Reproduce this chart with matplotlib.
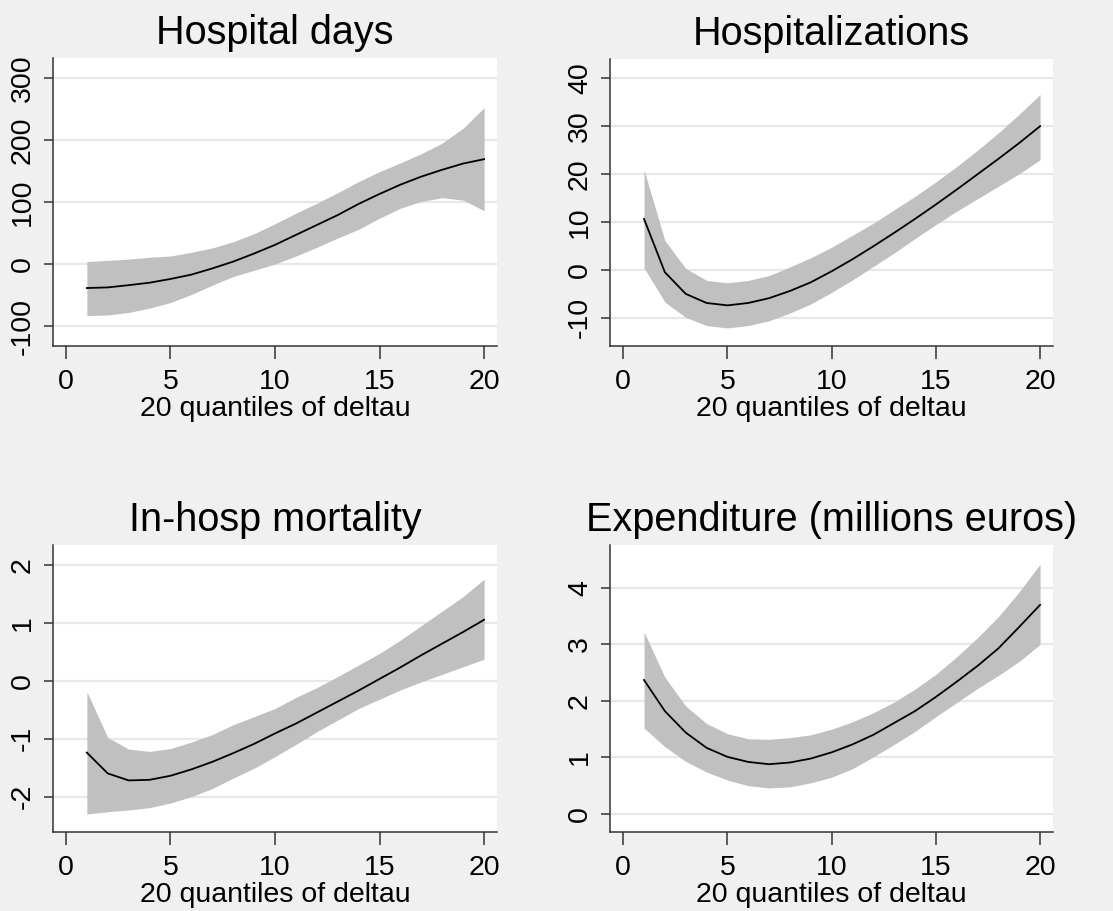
import numpy as np
import matplotlib
matplotlib.use("Agg")
import matplotlib.pyplot as plt

plt.rcParams['font.family'] = ['Liberation Sans', 'DejaVu Sans']

quantiles = np.arange(1, 21)

# Hospital days
days_mid = [-38.6, -37.6, -34, -30, -24, -17, -7, 4, 17, 31, 47, 63, 79, 97, 113, 128, 141, 152, 162, 169]
days_lo = [-83, -82, -78, -71, -62, -49, -34, -20, -10, 0, 13, 27, 42, 56, 74, 90, 101, 107, 103, 86]
days_hi = [4, 6, 8, 11, 13, 19, 26, 36, 49, 65, 82, 98, 115, 133, 149, 163, 178, 195, 219, 252]

# Hospitalizations
hosp_mid = [10.6, -0.5, -5.0, -6.9, -7.4, -6.9, -5.9, -4.4, -2.6, -0.3, 2.2, 4.9, 7.7, 10.6, 13.6, 16.7, 19.9, 23.1, 26.4, 29.9]
hosp_lo = [0.4, -6.7, -9.9, -11.6, -12.1, -11.6, -10.6, -9.0, -7.1, -4.7, -2.1, 0.7, 3.5, 6.5, 9.4, 12.2, 14.8, 17.4, 20.0, 22.9]
hosp_hi = [20.8, 6.1, 0.3, -2.2, -2.7, -2.2, -1.2, 0.6, 2.5, 4.7, 7.2, 9.7, 12.5, 15.3, 18.3, 21.5, 24.9, 28.5, 32.4, 36.5]

# In-hosp mortality
mort_mid = [-1.24, -1.60, -1.72, -1.71, -1.64, -1.53, -1.40, -1.25, -1.09, -0.91, -0.74, -0.55, -0.36, -0.17, 0.03, 0.23, 0.44, 0.64, 0.84, 1.05]
mort_lo = [-2.30, -2.26, -2.23, -2.19, -2.11, -2.00, -1.86, -1.68, -1.51, -1.31, -1.10, -0.88, -0.68, -0.48, -0.32, -0.16, -0.02, 0.11, 0.24, 0.37]
mort_hi = [-0.19, -0.98, -1.18, -1.22, -1.17, -1.06, -0.93, -0.76, -0.62, -0.48, -0.29, -0.12, 0.07, 0.27, 0.47, 0.70, 0.95, 1.20, 1.45, 1.75]

# Expenditure
exp_mid = [2.37, 1.82, 1.44, 1.17, 1.01, 0.92, 0.88, 0.91, 0.98, 1.09, 1.23, 1.40, 1.61, 1.82, 2.07, 2.34, 2.62, 2.93, 3.31, 3.70]
exp_lo = [1.52, 1.19, 0.93, 0.74, 0.60, 0.50, 0.46, 0.48, 0.55, 0.65, 0.80, 1.01, 1.23, 1.46, 1.72, 1.97, 2.22, 2.45, 2.70, 3.00]
exp_hi = [3.22, 2.42, 1.91, 1.60, 1.42, 1.33, 1.32, 1.35, 1.40, 1.50, 1.63, 1.79, 1.98, 2.21, 2.47, 2.78, 3.12, 3.49, 3.93, 4.42]

panels = [
    ("Hospital days", days_mid, days_lo, days_hi, [-100, 0, 100, 200, 300], (-132, 332)),
    ("Hospitalizations", hosp_mid, hosp_lo, hosp_hi, [-10, 0, 10, 20, 30, 40], (-15.8, 43.9)),
    ("In-hosp mortality", mort_mid, mort_lo, mort_hi, [-2, -1, 0, 1, 2], (-2.61, 2.34)),
    ("Expenditure (millions euros)", exp_mid, exp_lo, exp_hi, [0, 1, 2, 3, 4], (-0.32, 4.76)),
]

positions = [
    [0.0476, 0.6202, 0.399, 0.3161],
    [0.5483, 0.6205, 0.3978, 0.3148],
    [0.0476, 0.0867, 0.399, 0.3151],
    [0.5483, 0.0867, 0.3978, 0.3151],
]

fig = plt.figure(figsize=(11.13, 9.11), dpi=100, facecolor='#f0f0f0')

for (title, mid, lo, hi, yticks, ylim), pos in zip(panels, positions):
    ax = fig.add_axes(pos)
    ax.set_facecolor('white')
    ax.fill_between(quantiles, lo, hi, color='#c0c0c0', linewidth=0, zorder=2)
    ax.plot(quantiles, mid, color='black', linewidth=1.3, zorder=3)
    ax.set_xlim(-0.62, 20.62)
    ax.set_ylim(*ylim)
    ax.set_xticks([0, 5, 10, 15, 20])
    ax.set_yticks(yticks)
    ax.set_yticklabels([str(t) for t in yticks], rotation=90, va='center')
    ax.yaxis.grid(True, color='#e8e8e8', linewidth=1.6, zorder=1)
    ax.set_axisbelow(True)
    for side in ['top', 'right']:
        ax.spines[side].set_visible(False)
    for side in ['left', 'bottom']:
        ax.spines[side].set_color('#333333')
        ax.spines[side].set_linewidth(1.1)
    ax.tick_params(axis='x', length=9.5, width=1.1, color='#333333', labelsize=20.5, pad=7)
    ax.tick_params(axis='y', length=6.5, width=1.1, color='#333333', labelsize=20.5, pad=6)
    ax.set_xlabel("20 quantiles of deltau", fontsize=20.5, labelpad=1)
    ax.set_title(title, fontsize=28.5, pad=10)

fig.savefig("out.png", dpi=100, facecolor=fig.get_facecolor())
